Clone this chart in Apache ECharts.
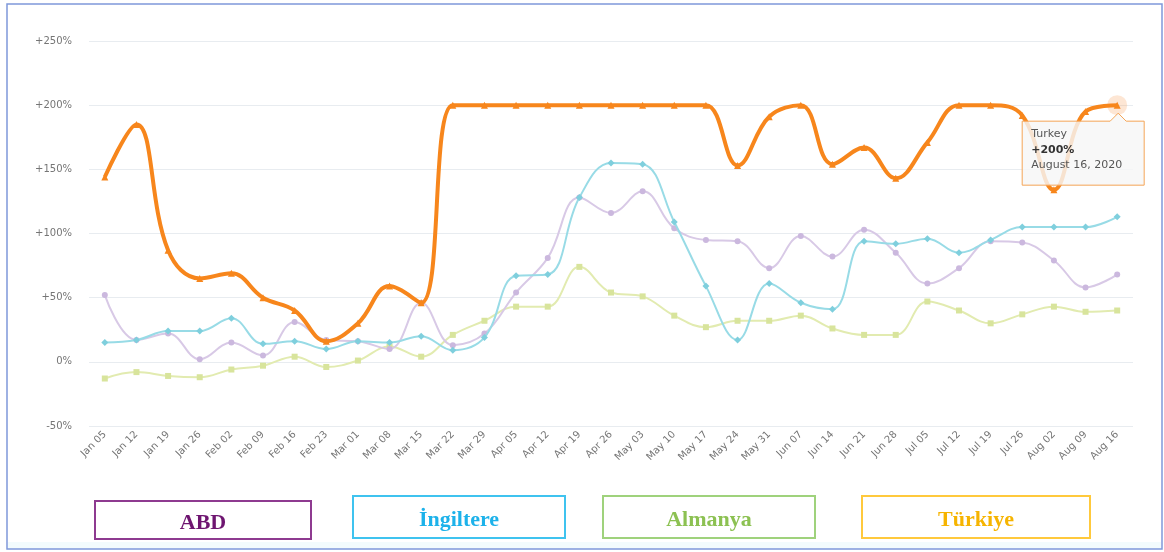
<!DOCTYPE html>
<html>
<head>
<meta charset="utf-8">
<script src="https://cdn.jsdelivr.net/npm/echarts@6/dist/echarts.min.js"></script>
<style>
  html, body { margin: 0; padding: 0; background: #ffffff; }
  #chart { width: 1164px; height: 552px; }
</style>
</head>
<body>
<div id="chart"></div>
<script>
const categories = ['Jan 05','Jan 12','Jan 19','Jan 26','Feb 02','Feb 09','Feb 16','Feb 23','Mar 01','Mar 08','Mar 15','Mar 22','Mar 29','Apr 05','Apr 12','Apr 19','Apr 26','May 03','May 10','May 17','May 24','May 31','Jun 07','Jun 14','Jun 21','Jun 28','Jul 05','Jul 12','Jul 19','Jul 26','Aug 02','Aug 09','Aug 16'];
const usa     = [52,17,22,2,15,5,31,17,16,10,46,13,22,54,81,128,116,133,104,95,94,73,98,82,103,85,61,73,94,93,79,58,68];
const uk      = [15,17,24,24,34,14,16,10,16,15,20,9,19,67,68,128,155,154,109,59,17,61,46,41,94,92,96,85,95,105,105,105,113];
const germany = [-13,-8,-11,-12,-6,-3,4,-4,1,12,4,21,32,43,43,74,54,51,36,27,32,32,36,26,21,21,47,40,30,37,43,39,40];
const turkey  = [144,185,87,65,69,50,40,16,30,59,46,200,200,200,200,200,200,200,200,200,153,191,200,154,167,143,171,200,200,192,134,195,200];
const yTicks = [-50, 0, 50, 100, 150, 200, 250];
const seriesNames = ['USA', 'UK', 'Germany', 'Turkey'];
const legendLabels = ['ABD', 'İngiltere', 'Almanya', 'Türkiye'];
const tooltipIndex = 32;
const tooltipDate = 'August 16, 2020';

const fmtPct = v => (v > 0 ? '+' + v : '' + v) + '%';

const chart = echarts.init(document.getElementById('chart'), null, { renderer: 'canvas' });

function lineSeries(name, data, color, markerColor, width, symbol, size, z) {
  return {
    name: name, type: 'line', data: data, smooth: 0.4, z: z,
    symbol: symbol, symbolSize: size, showSymbol: true,
    lineStyle: { color: color, width: width },
    itemStyle: { color: markerColor },
    emphasis: { disabled: true }
  };
}

const haloData = categories.map((c, i) => i === tooltipIndex ? turkey[i] : null);

chart.setOption({
  animation: false,
  backgroundColor: '#ffffff',
  grid: { left: 89, right: 31, top: 41, bottom: 126 },
  xAxis: {
    type: 'category', data: categories, boundaryGap: true,
    axisLine: { show: false }, axisTick: { show: false },
    axisLabel: { rotate: 45, interval: 0, fontSize: 10, color: '#757575', fontFamily: 'DejaVu Sans', margin: 7 }
  },
  yAxis: {
    type: 'value', min: yTicks[0], max: yTicks[yTicks.length - 1], interval: 50,
    axisLine: { show: false }, axisTick: { show: false },
    axisLabel: { fontSize: 10, color: '#757575', fontFamily: 'DejaVu Sans', margin: 17, formatter: fmtPct },
    splitLine: { lineStyle: { color: '#e8ecf0', width: 1 } }
  },
  series: [
    lineSeries(seriesNames[0], usa, '#d8c9e6', '#cbb8de', 2, 'circle', 6, 2),
    lineSeries(seriesNames[1], uk, '#98dbe6', '#7fcfdd', 2, 'diamond', 7, 3),
    lineSeries(seriesNames[2], germany, '#e2ebb0', '#d8e49c', 2, 'rect', 6, 1),
    {
      name: 'halo', type: 'scatter', data: haloData, symbol: 'circle', symbolSize: 20, z: 4,
      itemStyle: { color: 'rgba(247,160,90,0.32)' }, emphasis: { disabled: true }, silent: true
    },
    lineSeries(seriesNames[3], turkey, '#f7861c', '#f7861c', 4, 'triangle', 7, 5)
  ]
});

const p = chart.convertToPixel({ seriesIndex: 4 }, [tooltipIndex, turkey[tooltipIndex]]);
const px = p[0], py = p[1];
const bx0 = px - 95, bx1 = px + 27, by0 = py + 16, by1 = py + 80;
const tipPts = [
  [bx0, by0], [px - 7, by0], [px + 1, py + 8], [px + 9, by0], [bx1, by0], [bx1, by1], [bx0, by1]
];

const boxes = [
  { x: 95, y: 501, w: 216, h: 38, stroke: '#8e3a90', text: '#6e1570' },
  { x: 353, y: 496, w: 212, h: 42, stroke: '#3fc3ef', text: '#1db2ea' },
  { x: 603, y: 496, w: 212, h: 42, stroke: '#9fd27c', text: '#8cc152' },
  { x: 862, y: 496, w: 228, h: 42, stroke: '#ffc93c', text: '#f6b400' }
];

const graphics = [
  { type: 'rect', shape: { x: 8, y: 542, width: 1153, height: 7 }, style: { fill: '#f2fbfd' }, silent: true, z: 90 },
  { type: 'rect', shape: { x: 7, y: 4, width: 1155, height: 545 }, style: { fill: null, stroke: '#7f98da', lineWidth: 1.5 }, silent: true, z: 100 }
];
boxes.forEach((b, i) => {
  graphics.push({ type: 'rect', shape: { x: b.x, y: b.y, width: b.w, height: b.h }, style: { fill: '#ffffff', stroke: b.stroke, lineWidth: 2 }, silent: true });
  graphics.push({ type: 'text', x: b.x + b.w / 2, y: b.y + b.h / 2 + 3, style: { text: legendLabels[i], fill: b.text, font: 'bold 22px "Liberation Serif", "Times New Roman", serif', textAlign: 'center', textVerticalAlign: 'middle' }, silent: true });
});
graphics.push({ type: 'polygon', shape: { points: tipPts }, style: { fill: 'rgba(246,246,246,0.82)', stroke: '#f5a556', lineWidth: 1 }, z: 200, silent: true });
graphics.push({ type: 'text', x: bx0 + 9, y: by0 + 7, z: 201, silent: true,
  style: { text: seriesNames[3], fill: '#555', font: '11px "DejaVu Sans", sans-serif', textVerticalAlign: 'top' } });
graphics.push({ type: 'text', x: bx0 + 9, y: by0 + 23, z: 201, silent: true,
  style: { text: fmtPct(turkey[tooltipIndex]), fill: '#333', font: 'bold 11px "DejaVu Sans", sans-serif', textVerticalAlign: 'top' } });
graphics.push({ type: 'text', x: bx0 + 9, y: by0 + 38, z: 201, silent: true,
  style: { text: tooltipDate, fill: '#555', font: '11px "DejaVu Sans", sans-serif', textVerticalAlign: 'top' } });

chart.setOption({ graphic: graphics });
</script>
</body>
</html>
